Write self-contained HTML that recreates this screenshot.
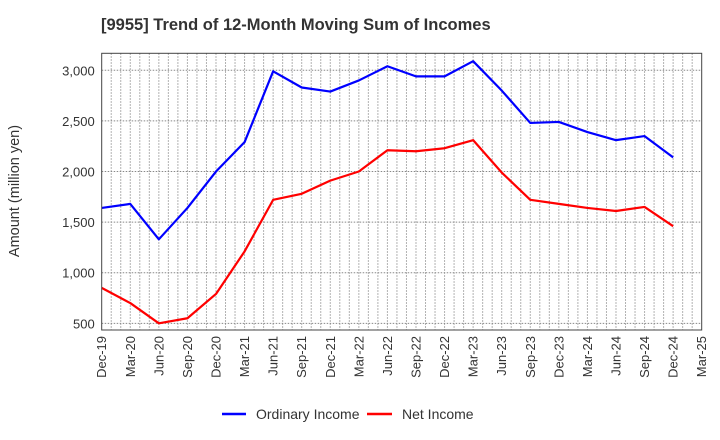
<!DOCTYPE html>
<html><head><meta charset="utf-8"><style>
body{margin:0;background:#fff;}
svg{display:block;font-family:"Liberation Sans",Arial,sans-serif;}
</style></head><body>
<svg id="chart" width="720" height="440" viewBox="0 0 720 440">
<text x="101" y="30" font-size="16.5" font-weight="bold" fill="#333">[9955]  Trend of 12-Month Moving Sum of Incomes</text>
<text transform="translate(19,191) rotate(-90)" text-anchor="middle" font-size="14.5" fill="#333">Amount (million yen)</text>
<g id="grid"></g><g id="series"></g><g id="axes"></g>
<g>
<line x1="222" y1="414" x2="246" y2="414" stroke="#0000ff" stroke-width="2.5"/>
<text x="256" y="419" font-size="14" fill="#333">Ordinary Income</text>
<line x1="367" y1="414" x2="392" y2="414" stroke="#ff0000" stroke-width="2.5"/>
<text x="402" y="419" font-size="14" fill="#333">Net Income</text>
</g>
</svg>
<script>
const categories=["Dec-19","Mar-20","Jun-20","Sep-20","Dec-20","Mar-21","Jun-21","Sep-21","Dec-21","Mar-22","Jun-22","Sep-22","Dec-22","Mar-23","Jun-23","Sep-23","Dec-23","Mar-24","Jun-24","Sep-24","Dec-24","Mar-25"];
const ordinaryIncome=[1640,1680,1330,1640,2000,2290,2990,2830,2790,2900,3040,2940,2940,3090,2800,2480,2490,2390,2310,2350,2140];
const netIncome=[850,700,500,550,790,1210,1720,1780,1910,2000,2210,2200,2230,2310,1990,1720,1680,1640,1610,1650,1460];
const yTicks=[500,1000,1500,2000,2500,3000];
const yTickLabels=["500","1,000","1,500","2,000","2,500","3,000"];
const L=101.7,R=701.7,T=53.3,B=330,yMin=434,yMax=3168;
const ns="http://www.w3.org/2000/svg";
const xs=i=>L+(R-L)*i/(categories.length-1);
const ys=v=>B-(v-yMin)/(yMax-yMin)*(B-T);
function mk(tag,attrs,parent){const e=document.createElementNS(ns,tag);for(const k in attrs)e.setAttribute(k,attrs[k]);parent.appendChild(e);return e;}
const grid=document.getElementById('grid'),axes=document.getElementById('axes'),series=document.getElementById('series');
const nMonths=(categories.length-1)*3;
for(let m=1;m<nMonths;m++){const x=L+(R-L)*m/nMonths;const g=mk('line',{x1:x,x2:x,y1:T,y2:B,stroke:'#999','stroke-width':1,'stroke-dasharray':'1.5,1.5'},grid);

}
yTicks.forEach((v,i)=>{const y=ys(v);const g=mk('line',{x1:L,x2:R,y1:y,y2:y,stroke:'#888','stroke-width':1,'stroke-dasharray':'1.5,1.5'},grid);


const t=mk('text',{x:L-7,y:y+5,'text-anchor':'end','font-size':13,fill:'#333'},axes);t.textContent=yTickLabels[i];

});
categories.forEach((c,i)=>{const x=xs(i);const t=mk('text',{transform:`translate(${x+4.5},336) rotate(-90)`,'text-anchor':'end','font-size':13,fill:'#333'},axes);t.textContent=c;

});
const frame=mk('rect',{x:L,y:T,width:R-L,height:B-T,fill:'none',stroke:'#444','stroke-width':1},axes);


function line(data,color,name){const p=mk('polyline',{points:data.map((v,i)=>xs(i)+','+ys(v)).join(' '),fill:'none',stroke:color,'stroke-width':2.2,'stroke-linejoin':'round'},series);

}
line(ordinaryIncome,'#0000ff','ordinary-income-line');
line(netIncome,'#ff0000','net-income-line');
</script>
</body></html>
